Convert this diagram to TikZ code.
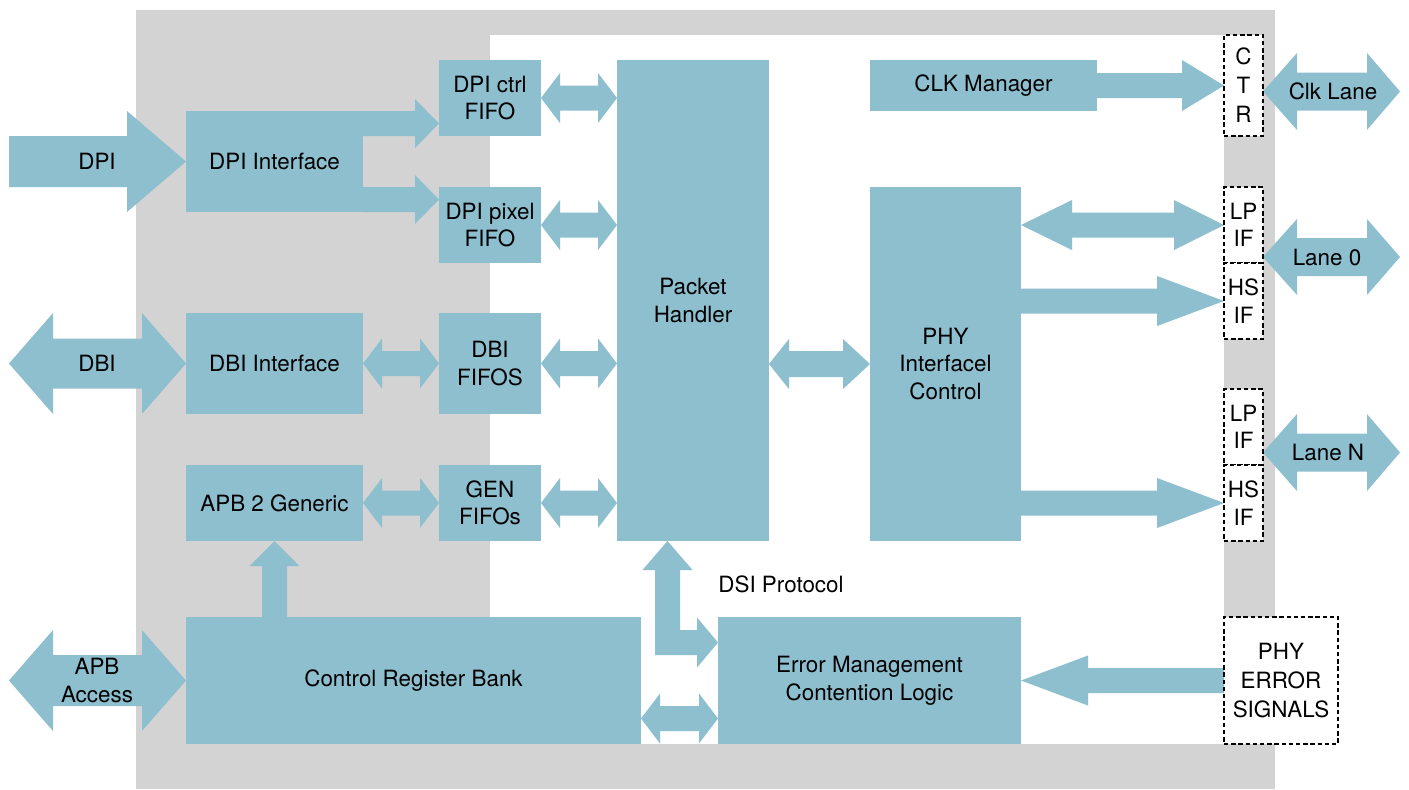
\documentclass[tikz,border=0pt]{standalone}
\usepackage{fontspec}
\setmainfont{TeX Gyre Heros}
\usetikzlibrary{calc}
\definecolor{boxc}{RGB}{141,191,207}
\definecolor{bgc}{RGB}{211,211,211}
\pgfdeclarelayer{bglayer}\pgfdeclarelayer{arrlayer}
\pgfsetlayers{bglayer,arrlayer,main}
% single block arrow: from, to, head length (signed), head half width, shaft half width
\newcommand\sarr[5]{%
 \fill[blockarrow] ($(#1)+(0,{-(#5)})$) -- ($(#2|-#1)+({-(#3)},{-(#5)})$) -- ($(#2|-#1)+({-(#3)},{-(#4)})$) -- (#2|-#1) -- ($(#2|-#1)+({-(#3)},{#4})$) -- ($(#2|-#1)+({-(#3)},{#5})$) -- ($(#1)+(0,{#5})$) -- cycle;}
% double block arrow: from, to, head length at from, head length at to, head half, shaft half
\newcommand\darr[6]{%
 \fill[blockarrow] (#1) -- ($(#1)+(#3,{-(#5)})$) -- ($(#1)+(#3,{-(#6)})$) -- ($(#2|-#1)+({-(#4)},{-(#6)})$) -- ($(#2|-#1)+({-(#4)},{-(#5)})$) -- (#2|-#1) -- ($(#2|-#1)+({-(#4)},{#5})$) -- ($(#2|-#1)+({-(#4)},{#6})$) -- ($(#1)+(#3,{#6})$) -- ($(#1)+(#3,{#5})$) -- cycle;}
% block: style, name, x1, y1, x2, y2, text
\newcommand\blk[7]{\node[#1, minimum width={(#5-#3)*0.5pt}, minimum height={(#6-#4)*0.5pt}] (#2) at ({(#3+#5)/2},{(#4+#6)/2}) {#7};}
\begin{document}
\begin{tikzpicture}[x=0.5pt,y=-0.5pt,
  font=\fontsize{11.2}{13.8}\selectfont,
  box/.style={fill=boxc, inner sep=0pt, outer sep=0pt, align=center},
  dbox/.style={fill=white, draw=black, line width=1pt, dash pattern=on 2.2pt off 1.4pt, inner sep=0pt, outer sep=0pt, align=center},
  blockarrow/.style={fill=boxc},
  lbl/.style={inner sep=0pt, align=center}]
\useasboundingbox (0,0) rectangle (1409,789);
\begin{pgfonlayer}{bglayer}
\fill[bgc] (136,10) rectangle (1275,789);
\fill[white] (490,35) rectangle (1224,744);
\end{pgfonlayer}
% blocks
\blk{box}{dpiif}{186}{111}{363}{212}{DPI Interface}
\blk{box}{dbiif}{186}{313}{363}{414}{DBI Interface}
\blk{box}{apbg}{186}{465}{363}{541}{APB 2 Generic}
\blk{box}{crb}{186}{617}{641}{744}{Control Register Bank}
\blk{box}{dpictrl}{439}{60}{541}{136}{DPI ctrl\\FIFO}
\blk{box}{dpipix}{439}{187}{541}{263}{DPI pixel\\FIFO}
\blk{box}{dbiff}{439}{313}{541}{414}{DBI\\FIFOS}
\blk{box}{genff}{439}{465}{541}{541}{GEN\\FIFOs}
\blk{box}{ph}{617}{60}{769}{541}{Packet\\Handler}
\blk{box}{clk}{870}{60}{1097}{111}{CLK Manager}
\blk{box}{phy}{870}{187}{1021}{541}{PHY\\Interfacel\\Control}
\blk{box}{em}{718}{617}{1021}{744}{Error Management\\Contention Logic}
\blk{dbox,font=\fontsize{11.2}{14.5}\selectfont}{ctr}{1224}{35}{1263}{136}{C\\T\\R}
\blk{dbox}{lp0}{1224}{187}{1263}{263}{LP\\IF}
\blk{dbox}{hs0}{1224}{263}{1263}{339}{HS\\IF}
\blk{dbox}{lpn}{1224}{389}{1263}{465}{LP\\IF}
\blk{dbox}{hsn}{1224}{465}{1263}{541}{HS\\IF}
\blk{dbox,font=\fontsize{11.2}{14.3}\selectfont}{phyerr}{1224}{617}{1338}{744}{PHY\\ERROR\\SIGNALS}
% free ends and helper points
\coordinate (dpiin) at (9,161.5);
\coordinate (dbiout) at (9,363.5);
\coordinate (apbout) at (9,680.5);
\coordinate (a1) at ($(dpiif.north east)+(0,12.5)$);
\coordinate (a2) at ($(dpiif.south east)+(0,-12.5)$);
\coordinate (clkA) at ($(ctr.east)+(0,6)$);
\coordinate (clkout) at (1400,91.5);
\coordinate (l0A) at ($(lp0.south east)+(0,-6)$);
\coordinate (l0out) at (1400,257);
\coordinate (lnA) at ($(lpn.south east)+(0,-12.5)$);
\coordinate (lnout) at (1400,452.5);
\coordinate (phA) at (ph.east|-phy.west);
\coordinate (phyA) at (phy.east|-lp0.west);
\coordinate (phyB) at (phy.east|-hs0.west);
\coordinate (phyC) at (phy.east|-hsn.west);
\coordinate (crbA) at ($(crb.east)+(0,38)$);
\coordinate (Ltop) at ($(ph.south)+(-25.5,0)$);
\coordinate (Lright) at ($(em.west)+(0,-38)$);
\coordinate (vB) at (apbg.south|-crb.north);
\begin{pgfonlayer}{arrlayer}
\sarr{dpiin}{dpiif.west}{59}{50.5}{25.5}
\sarr{a1}{dpictrl.west}{24}{24.5}{12.5}
\sarr{a2}{dpipix.west}{24}{24.5}{12.5}
\darr{dpictrl.east}{ph.west}{19}{19}{25}{12.5}
\darr{dpipix.east}{ph.west}{19}{19}{25}{12.5}
\darr{dbiff.east}{ph.west}{19}{19}{25}{12.5}
\darr{genff.east}{ph.west}{19}{19}{25}{12.5}
\darr{dbiout}{dbiif.west}{44}{44}{50.5}{25}
\darr{dbiif.east}{dbiff.west}{19}{19}{25}{12.5}
\darr{apbg.east}{genff.west}{19}{19}{25}{12.5}
\darr{apbout}{crb.west}{44}{44}{50.5}{25.5}
\darr{phA}{phy.west}{20}{27}{25}{13}
\sarr{clk.east}{ctr.west}{42}{25.5}{12.5}
\darr{phyA}{lp0.west}{51}{50}{25}{12.5}
\sarr{phyB}{hs0.west}{67}{25}{12.5}
\sarr{phyC}{hsn.west}{67}{25}{12.5}
\sarr{phyerr.west}{em.east}{-67}{25}{12.5}
\darr{clkA}{clkout}{34}{33}{38.5}{19}
\darr{l0A}{l0out}{34}{33}{38}{19}
\darr{lnA}{lnout}{34}{33}{38.5}{19}
\darr{crbA}{em.west}{19}{19}{25}{12.5}
\fill[blockarrow] ($(vB)+(-12.5,0)$) -- ($(apbg.south)+(-12.5,25)$) -- ($(apbg.south)+(-25,25)$) -- (apbg.south) -- ($(apbg.south)+(25,25)$) -- ($(apbg.south)+(12.5,25)$) -- ($(vB)+(12.5,0)$) -- cycle;
\fill[blockarrow] (Ltop) -- ($(Ltop)+(25,29)$) -- ($(Ltop)+(12.5,29)$) -- ($(Ltop|-Lright)+(12.5,-12.5)$) -- ($(Lright)+(-21,-12.5)$) -- ($(Lright)+(-21,-25)$) -- (Lright) -- ($(Lright)+(-21,25)$) -- ($(Lright)+(-21,12.5)$) -- ($(Ltop|-Lright)+(-12.5,12.5)$) -- ($(Ltop)+(-12.5,29)$) -- ($(Ltop)+(-25,29)$) -- cycle;
\end{pgfonlayer}
% labels
\node[lbl] (dpilbl) at (97,161.5) {DPI};
\node[lbl] (dbilbl) at (97,363.5) {DBI};
\node[lbl] (apblbl) at (97,680.5) {APB\\Access};
\node[lbl] (clklbl) at (1333,91.5) {Clk Lane};
\node[lbl] (l0lbl) at (1327,257) {Lane 0};
\node[lbl] (lnlbl) at (1328,452.5) {Lane N};
\node[lbl, anchor=west] (dsilbl) at (718,584) {DSI Protocol};
\end{tikzpicture}
\end{document}
